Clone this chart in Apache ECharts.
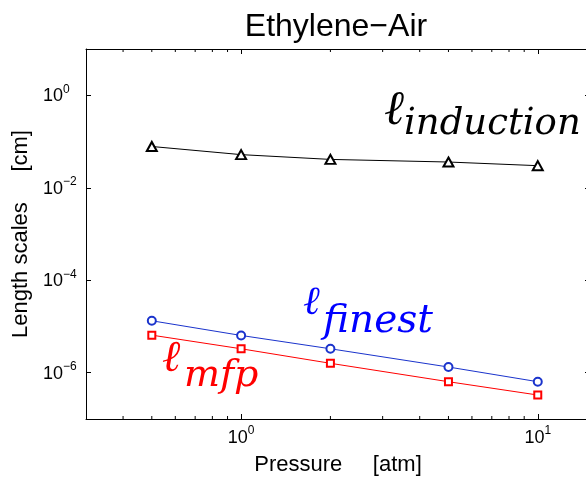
<!DOCTYPE html>
<html>
<head>
<meta charset="utf-8">
<script src="https://cdn.jsdelivr.net/npm/echarts@6/dist/echarts.min.js"></script>
<style>
  html, body { margin: 0; padding: 0; background: #fff; }
  #chart { width: 586px; height: 480px; }
</style>
</head>
<body>
<div id="chart"></div>
<script>
// Pressure sweep for ethylene-air mixtures (log-log)
const pressure = [0.5, 1, 2, 5, 10];            // atm
const inductionLength = [0.078, 0.052, 0.041, 0.036, 0.030]; // cm
const finestLength = [1.33e-5, 6.4e-6, 3.3e-6, 1.33e-6, 6.4e-7]; // cm
const mfpLength = [6.5e-6, 3.3e-6, 1.6e-6, 6.4e-7, 3.3e-7];     // cm

// axis ranges and minor tick positions on the pressure axis
const xRange = [0.3, 15];
const yRange = [1e-7, 10];
const xMinorTicks = [0.4, 0.5, 0.6, 0.7, 0.8, 0.9, 2, 3, 4, 5, 6, 7, 8, 9];

const titleText = 'Ethylene\u2212Air';
const xName = 'Pressure     [atm]';
const yName = 'Length scales     [cm]';

const pairs = ys => pressure.map((p, i) => [p, ys[i]]);

const SANS = '"Liberation Sans", Arial, Helvetica, sans-serif';
const SERIF = '"DejaVu Serif", serif';

// power-of-ten label: "10" with a raised exponent
function powLabel(v) {
  const e = Math.log10(v);
  const r = Math.round(e);
  if (Math.abs(e - r) > 1e-6) return '';
  return '{b|10}{s|' + String(r).replace('-', '\u2212') + '}';
}
function evenPowLabel(v) {
  const e = Math.round(Math.log10(v));
  if (Math.abs(Math.log10(v) - e) > 1e-6 || e % 2 !== 0) return '';
  return powLabel(v);
}
const powRich = {
  b: { fontFamily: SANS, fontSize: 18, color: '#000', lineHeight: 20, verticalAlign: 'bottom' },
  s: { fontFamily: SANS, fontSize: 12, color: '#000', lineHeight: 14, padding: [0, 0, 10, 0], verticalAlign: 'bottom' }
};

const chart = echarts.init(document.getElementById('chart'), null, { renderer: 'canvas' });

const axisLineStyle = { color: '#000', width: 1 };

chart.setOption({
  animation: false,
  backgroundColor: '#fff',
  title: {
    text: titleText,
    left: 331,
    top: 6,
    textAlign: 'center',
    textStyle: { fontFamily: SANS, fontSize: 32, fontWeight: 'normal', color: '#000' }
  },
  // the plot box runs a few pixels past the right edge of the page
  grid: { left: 86, top: 49, width: 504, height: 370, containLabel: false, outerBoundsMode: 'none' },
  xAxis: [
    {
      type: 'log', logBase: 10, min: xRange[0], max: xRange[1],
      position: 'bottom',
      name: xName, nameLocation: 'middle', nameGap: 35,
      nameTextStyle: { fontFamily: SANS, fontSize: 22, color: '#000' },
      axisLine: { show: true, lineStyle: axisLineStyle },
      axisTick: { show: true, inside: true, length: 5, lineStyle: axisLineStyle },
      axisLabel: { formatter: powLabel, rich: powRich, margin: 8, showMinLabel: false, showMaxLabel: false },
      splitLine: { show: false }
    },
    {
      type: 'log', logBase: 10, min: xRange[0], max: xRange[1],
      position: 'top',
      axisLine: { show: true, lineStyle: axisLineStyle },
      axisTick: { show: true, inside: true, length: 5, lineStyle: axisLineStyle },
      axisLabel: { show: false },
      splitLine: { show: false }
    }
  ],
  yAxis: [
    {
      // base 100 puts a tick on every second decade
      type: 'log', logBase: 100, min: yRange[0], max: yRange[1],
      position: 'left',
      name: yName, nameLocation: 'middle', nameGap: 50, nameRotate: 90,
      nameTextStyle: { fontFamily: SANS, fontSize: 22, color: '#000' },
      axisLine: { show: true, lineStyle: axisLineStyle },
      axisTick: { show: true, inside: true, length: 5, lineStyle: axisLineStyle },
      axisLabel: { formatter: evenPowLabel, rich: powRich, align: 'left', margin: 43, showMinLabel: false, showMaxLabel: false },
      splitLine: { show: false }
    },
    {
      type: 'log', logBase: 100, min: yRange[0], max: yRange[1],
      position: 'right',
      axisLine: { show: true, lineStyle: axisLineStyle },
      axisTick: { show: true, inside: true, length: 5, lineStyle: axisLineStyle },
      axisLabel: { show: false },
      splitLine: { show: false }
    }
  ],
  series: [
    {
      name: 'induction', type: 'line', data: pairs(inductionLength),
      symbol: 'emptyTriangle', symbolSize: [10, 9],
      lineStyle: { color: '#000', width: 1 },
      itemStyle: { color: '#000', borderWidth: 0.8 }
    },
    {
      name: 'finest', type: 'line', data: pairs(finestLength),
      symbol: 'emptyCircle', symbolSize: 8,
      lineStyle: { color: '#1a33cc', width: 1 },
      itemStyle: { color: '#1a33cc', borderWidth: 0.8 }
    },
    {
      name: 'mfp', type: 'line', data: pairs(mfpLength),
      symbol: 'emptyRect', symbolSize: 7,
      lineStyle: { color: '#ff0000', width: 1 },
      itemStyle: { color: '#ff0000', borderWidth: 0.8 }
    },
    {
      // logarithmic minor ticks on the bottom and top pressure axes
      name: 'minorTicks', type: 'custom', silent: true, clip: false,
      data: xMinorTicks.map(v => [v]),
      renderItem: function (params, api) {
        const x = api.value(0);
        const pb = api.coord([x, yRange[0]]);
        const pt = api.coord([x, yRange[1]]);
        const st = { stroke: '#000', lineWidth: 1 };
        return {
          type: 'group',
          children: [
            { type: 'line', shape: { x1: pb[0], y1: pb[1], x2: pb[0], y2: pb[1] - 3 }, style: st },
            { type: 'line', shape: { x1: pt[0], y1: pt[1], x2: pt[0], y2: pt[1] + 3 }, style: st }
          ]
        };
      },
      encode: { x: 0 }
    }
  ],
  graphic: [
    { type: 'text', left: 384, top: 88, style: { text: '\u2113', font: 'italic 48px ' + SERIF, fill: '#000' } },
    { type: 'text', left: 404, top: 106, style: { text: 'induction', font: 'italic 37px ' + SERIF, fill: '#000' } },
    { type: 'text', left: 303, top: 284, style: { text: '\u2113', font: 'italic 40px ' + SERIF, fill: '#0000ff' } },
    { type: 'text', left: 323, top: 302, style: { text: 'finest', font: 'italic 39px ' + SERIF, fill: '#0000ff' } },
    { type: 'text', left: 162, top: 338, style: { text: '\u2113', font: 'italic 44px ' + SERIF, fill: '#ff0000' } },
    { type: 'text', left: 184, top: 357, style: { text: 'mfp', font: 'italic 38px ' + SERIF, fill: '#ff0000' } }
  ]
});
</script>
</body>
</html>
